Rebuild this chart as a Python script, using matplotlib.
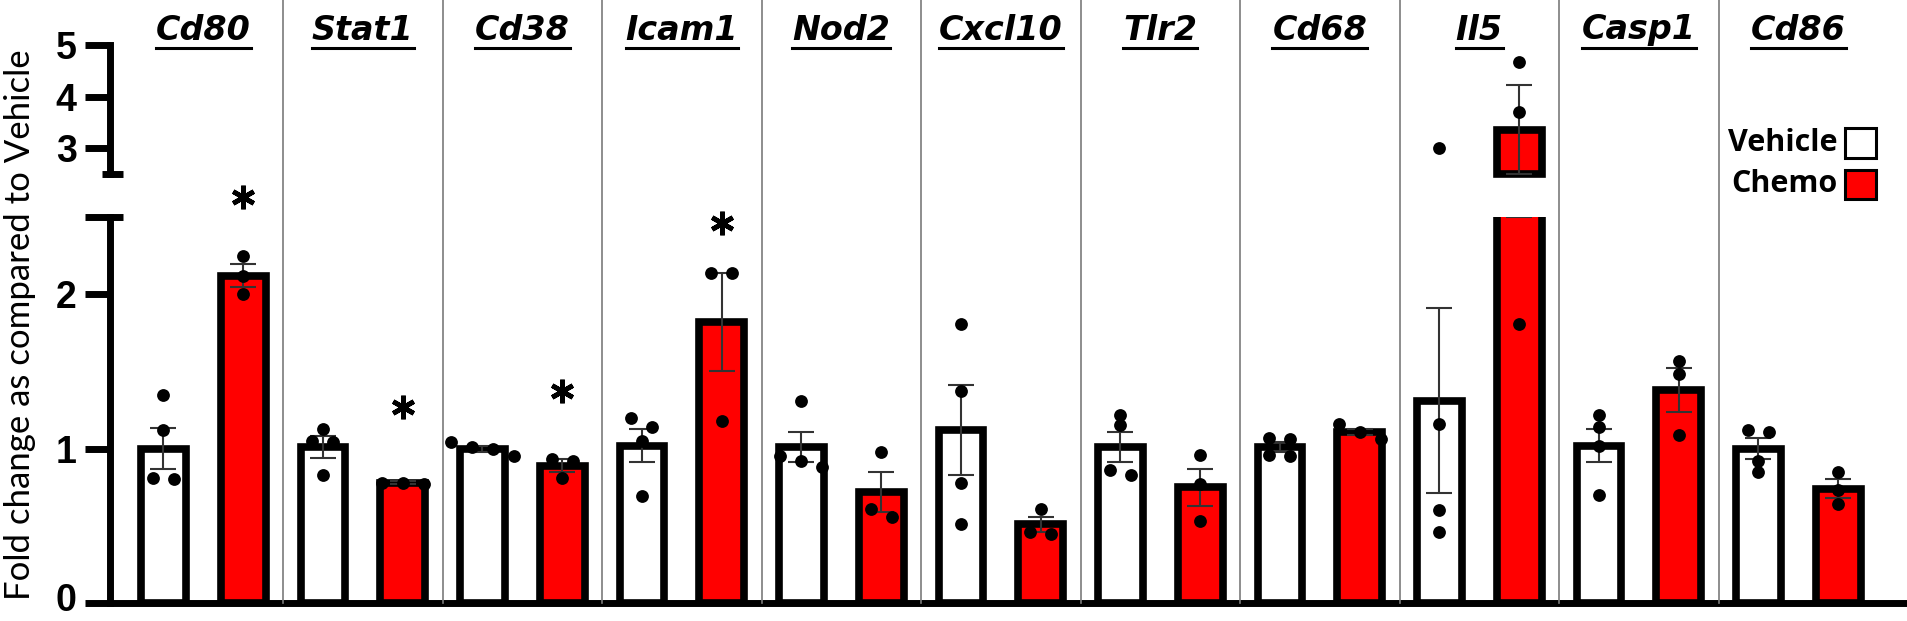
import numpy as np
import matplotlib.pyplot as plt
import matplotlib.transforms as mtransforms
from matplotlib.lines import Line2D
from matplotlib.patches import Rectangle

genes = ["Cd80", "Stat1", "Cd38", "Icam1", "Nod2", "Cxcl10",
         "Tlr2", "Cd68", "Il5", "Casp1", "Cd86"]

veh_mean = [1.00, 1.01, 1.00, 1.02, 1.01, 1.12, 1.01, 1.01, 1.31, 1.02, 1.00]
veh_sem = [0.135, 0.07, 0.02, 0.11, 0.10, 0.29, 0.10, 0.03, 0.60, 0.11, 0.07]
chemo_mean = [2.12, 0.78, 0.89, 1.82, 0.72, 0.51, 0.75, 1.11, 3.36, 1.38, 0.74]
chemo_sem = [0.075, 0.01, 0.04, 0.32, 0.13, 0.05, 0.12, 0.02, 0.86, 0.14, 0.06]

veh_points = [
    [1.35, 1.12, 0.81, 0.80],
    [1.13, 1.05, 1.04, 0.83],
    [1.04, 1.01, 1.00, 0.95],
    [1.20, 1.14, 1.05, 0.69],
    [1.31, 0.95, 0.92, 0.88],
    [1.81, 1.37, 0.78, 0.51],
    [1.22, 1.15, 0.86, 0.83],
    [1.07, 1.06, 0.96, 0.95],
    [3.00, 1.16, 0.60, 0.46],
    [1.22, 1.14, 1.02, 0.70],
    [1.12, 1.11, 0.92, 0.85],
]
chemo_points = [
    [2.25, 2.12, 2.00],
    [0.78, 0.78, 0.77],
    [0.93, 0.92, 0.81],
    [2.14, 2.14, 1.18],
    [0.98, 0.61, 0.56],
    [0.61, 0.46, 0.45],
    [0.96, 0.77, 0.53],
    [1.16, 1.11, 1.06],
    [4.67, 3.70, 1.81],
    [1.57, 1.48, 1.09],
    [0.85, 0.73, 0.64],
]

# significance stars (placed above chemo bars)
star_genes = ["Cd80", "Stat1", "Cd38", "Icam1"]
star_y = [2.63, 1.27, 1.37, 2.46]

RED = "#ff0000"
W, H = 1908, 621
BREAK = 2.5

fig = plt.figure(figsize=(W / 100, H / 100), dpi=100)
ax_lo = fig.add_axes([110 / W, 18 / H, (1906 - 110) / W, (603 - 217) / H])
ax_hi = fig.add_axes([110 / W, (H - 174) / H, (1906 - 110) / W, (174 - 45) / H])

x = np.arange(len(genes))
off = 0.25
bw = 0.28
xlim = (-0.585, 10.675)


def spread(vals, thr=0.07, step=0.132):
    # push close points sideways, a crude beeswarm
    order = np.argsort(vals)[::-1]
    offs = np.zeros(len(vals))
    groups = [[order[0]]]
    for i in order[1:]:
        if abs(vals[groups[-1][-1]] - vals[i]) < thr:
            groups[-1].append(i)
        else:
            groups.append([i])
    for g in groups:
        k = len(g)
        for j, i in enumerate(g):
            offs[i] = (j - (k - 1) / 2) * step
    return offs


for ax in (ax_lo, ax_hi):
    for xs, means, sems, pts, fc in ((x - off, veh_mean, veh_sem, veh_points, "white"),
                                     (x + off, chemo_mean, chemo_sem, chemo_points, RED)):
        for xi, m, s, p in zip(xs, means, sems, pts):
            if ax is ax_lo:
                ax.bar(xi, m, width=bw, color=fc, edgecolor="black", linewidth=5.5, zorder=2)
            elif m > BREAK:
                ax.bar(xi, m - BREAK, bottom=BREAK, width=bw, color=fc, edgecolor="black",
                       linewidth=5.5, zorder=2, clip_on=False)
            ax.errorbar(xi, m, yerr=s, fmt="none", ecolor="#333333", elinewidth=1.5,
                        capsize=9.5, capthick=1.5, zorder=3)
            pv = np.array(p)
            ax.scatter(xi + spread(pv), pv, s=85, color="black", zorder=4, linewidths=0)
    ax.set_xlim(*xlim)
    ax.set_xticks([])
    for sp in ("top", "right"):
        ax.spines[sp].set_visible(False)
    ax.spines["left"].set_linewidth(5)
    ax.tick_params(axis="y", length=18, width=5, pad=6, labelsize=27)

ax_lo.set_ylim(0, BREAK)
ax_lo.set_yticks([0, 1, 2])
ax_lo.spines["bottom"].set_linewidth(5)
ax_hi.set_ylim(BREAK, 5)
ax_hi.set_yticks([3, 4, 5])
ax_hi.spines["bottom"].set_visible(False)
for ax in (ax_lo, ax_hi):
    for lab in ax.get_yticklabels():
        lab.set_fontfamily("Liberation Sans")
        lab.set_fontweight("bold")
# lift the "0" a touch so it stays inside the picture
zero = ax_lo.get_yticklabels()[0]
zero.set_transform(zero.get_transform() + mtransforms.ScaledTranslation(0, 4 / 72, fig.dpi_scale_trans))

# break caps on the y axis
axw = 1796
cap_lo = mtransforms.blended_transform_factory(ax_lo.transAxes, ax_lo.transData)
ax_lo.add_line(Line2D([-25 / axw, 13 / axw], [BREAK, BREAK], transform=cap_lo, color="black",
                      lw=5, solid_capstyle="butt", clip_on=False))
cap_hi = mtransforms.blended_transform_factory(ax_hi.transAxes, ax_hi.transData)
ax_hi.add_line(Line2D([-8 / axw, 13 / axw], [BREAK, BREAK], transform=cap_hi, color="black",
                      lw=5, solid_capstyle="butt", clip_on=False))

# stars
for g, yv in zip(star_genes, star_y):
    xi = genes.index(g) + off
    ax_lo.plot(xi, yv, marker=(6, 2, 0), ms=17, mew=3.4, color="black", clip_on=False, zorder=5)

# group separators, running from the x axis to the top edge
sep_tr = mtransforms.blended_transform_factory(ax_lo.transData, fig.transFigure)
for i in range(len(genes) - 1):
    fig.add_artist(Line2D([i + 0.5, i + 0.5], [18 / H, 1.0], transform=sep_tr,
                          color="#7a7a7a", lw=1.2, zorder=1))

# gene names, bold italic and underlined
labels = []
for i, g in enumerate(genes):
    t = fig.text(i, 1 - 30 / H, g, transform=sep_tr, ha="center", va="center",
                 fontsize=24, fontweight="bold", fontstyle="italic", family="DejaVu Sans")
    labels.append(t)
fig.canvas.draw()
r = fig.canvas.get_renderer()
for t in labels:
    bb = t.get_window_extent(r)
    fig.add_artist(Line2D([bb.x0 / W, bb.x1 / W], [1 - 48 / H, 1 - 48 / H],
                          transform=fig.transFigure, color="black", lw=2.2))

fig.text(20 / W, 1 - 325 / H, "Fold change as compared to Vehicle", rotation=90,
         ha="center", va="center", fontsize=25, family="Lato")

# legend, drawn by hand: label on the left, box on the right
for lab, fc, y0, y1 in (("Vehicle", "white", 128, 158), ("Chemo", RED, 170, 199)):
    fig.text(1838 / W, 1 - (y0 + y1) / 2 / H, lab, ha="right", va="center", fontsize=22,
             fontweight="bold", family="Open Sans")
    fig.add_artist(Rectangle((1845 / W, 1 - y1 / H), 31 / W, (y1 - y0) / H,
                             transform=fig.transFigure, facecolor=fc, edgecolor="black", lw=2.2))

fig.savefig("out.png", dpi=100)
